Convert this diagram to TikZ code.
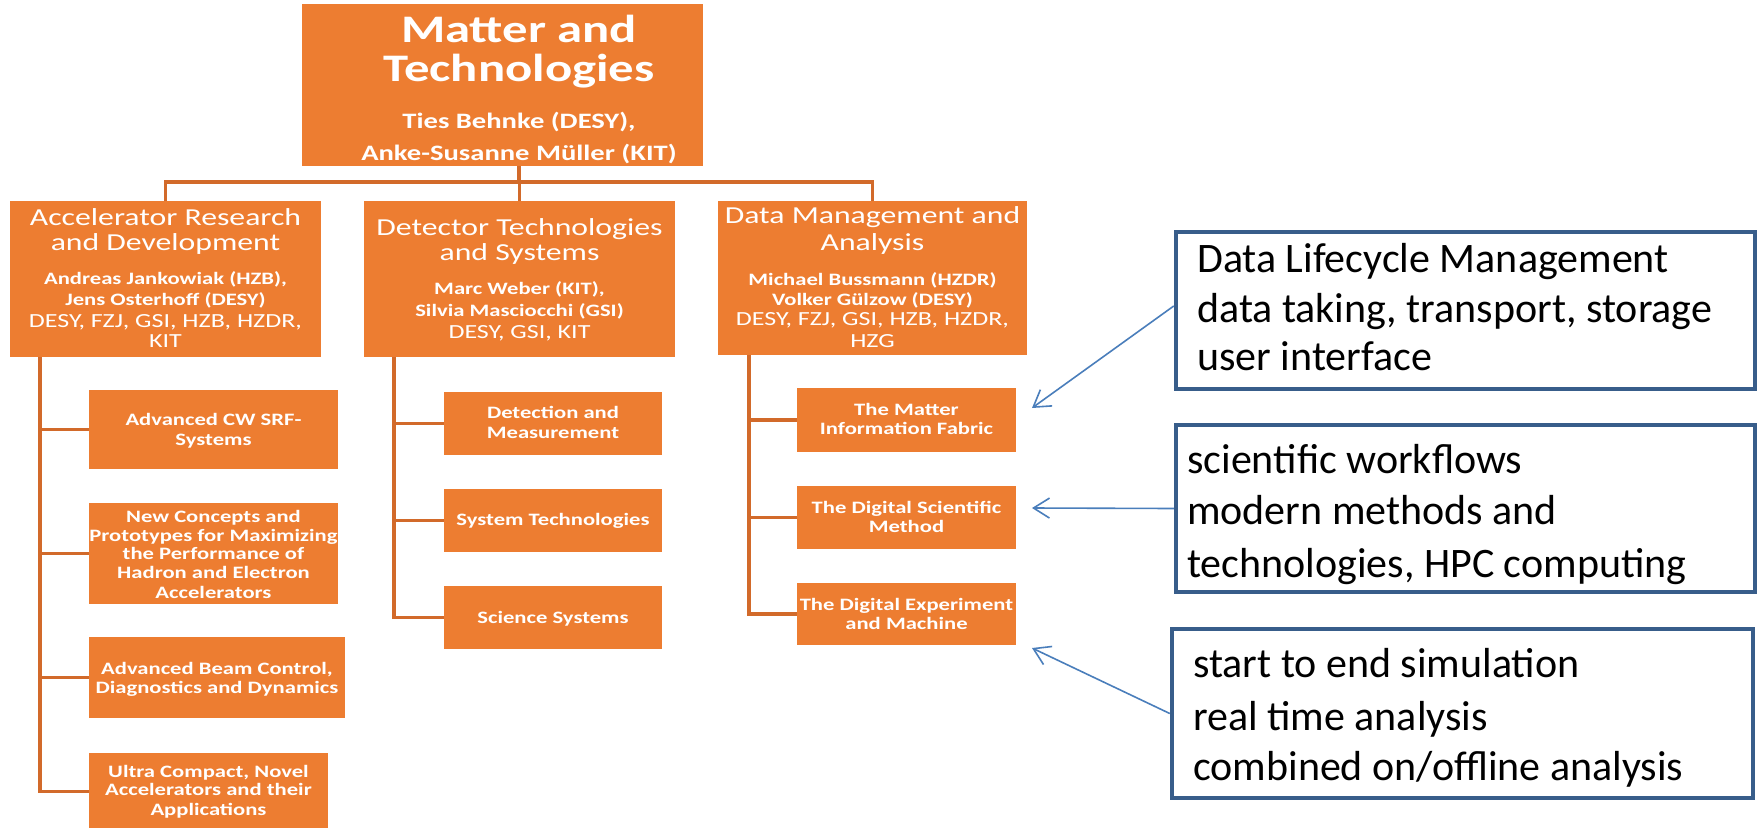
\documentclass[tikz,border=0pt]{standalone}
\usepackage{fontspec}
\setmainfont{Carlito}
\newfontfamily\widefont[FakeStretch=1.3]{Carlito}
\usetikzlibrary{arrows.meta}

\definecolor{orfill}{RGB}{237,125,49}
\definecolor{orline}{RGB}{210,106,42}
\definecolor{bluebox}{RGB}{56,93,138}
\definecolor{bluearr}{RGB}{74,126,187}

% font presets
\newcommand\fMain{\widefont\bfseries\fontsize{39}{40}\selectfont}
\newcommand\fMainNames{\widefont\bfseries\fontsize{22}{24}\selectfont}
\newcommand\fTitle{\widefont\fontsize{24.4}{26}\selectfont}
\newcommand\fNames{\widefont\bfseries\fontsize{17.4}{19}\selectfont}
\newcommand\fInst{\widefont\fontsize{20}{22}\selectfont}
\newcommand\fSub{\widefont\bfseries\fontsize{17.4}{19}\selectfont}
\newcommand\fNote{\fontsize{42}{50}\selectfont}

% one line of text, centred on x at baseline y
\newcounter{tln}
\newcommand\cenLine[4]{\stepcounter{tln}%
  \node[otext,font=#3] (ct\arabic{tln}) at (#1,#2) {#4};}
% one line of text, left-aligned at x on baseline y
\newcommand\noteLine[3]{\stepcounter{tln}%
  \node[ntext] (lt\arabic{tln}) at (#1,#2) {#3};}

\begin{document}
\begin{tikzpicture}[x=1pt,y=-1pt,
  obox/.style={rectangle,fill=orfill,draw=none,inner sep=0pt,outer sep=0pt},
  bbox/.style={rectangle,fill=white,draw=bluebox,line width=4.5pt,inner sep=0pt},
  otext/.style={anchor=base,inner sep=0pt,text=white},
  ntext/.style={anchor=base west,inner sep=0pt,text=black,font=\fNote},
  conn/.style={draw=orline,line width=3.5pt},
  arr/.style={draw=bluearr,line width=1.6pt,-{Straight Barb[length=16pt,width=20pt]}}
]
\clip (0,0) rectangle (1761,827);
\fill[white] (0,0) rectangle (1761,827);

% ---------- boxes ----------
\node[obox,minimum width=401pt,minimum height=162pt] (top) at (502.5,85) {};
\node[obox,minimum width=311pt,minimum height=156pt] (acc) at (165.5,279) {};
\node[obox,minimum width=311pt,minimum height=156pt] (det) at (519.5,279) {};
\node[obox,minimum width=309pt,minimum height=154pt] (data) at (872.5,278) {};

\node[obox,minimum width=249pt,minimum height=79pt] (a1) at (213.5,429.5) {};
\node[obox,minimum width=249pt,minimum height=101pt] (a2) at (213.5,553.5) {};
\node[obox,minimum width=256pt,minimum height=81pt] (a3) at (217,677.5) {};
\node[obox,minimum width=239pt,minimum height=77pt] (a4) at (208.5,791.5) {};

\node[obox,minimum width=218pt,minimum height=63pt] (d1) at (553,423.5) {};
\node[obox,minimum width=218pt,minimum height=63pt] (d2) at (553,520.5) {};
\node[obox,minimum width=218pt,minimum height=63pt] (d3) at (553,617.5) {};

\node[obox,minimum width=219pt,minimum height=64pt] (m1) at (906.5,420) {};
\node[obox,minimum width=219pt,minimum height=63pt] (m2) at (906.5,517.5) {};
\node[obox,minimum width=219pt,minimum height=62pt] (m3) at (906.5,614) {};

\node[bbox,minimum width=579pt,minimum height=157pt] (boxA) at (1465.5,310.5) {};
\node[bbox,minimum width=579pt,minimum height=167pt] (boxB) at (1465.5,508.5) {};
\node[bbox,minimum width=581pt,minimum height=169pt] (boxC) at (1462.5,713.5) {};

% ---------- tree connectors ----------
\coordinate (hub) at (519,182);
\draw[conn] (top.south -| hub) -- (hub);
\draw[conn] (acc.north) |- (hub);
\draw[conn] (data.north) |- (hub);
\draw[conn] (det.north) -- (det.north |- hub);

\coordinate (c1) at (40,357);
\foreach \b in {a1,a2,a3,a4} \draw[conn] (c1) |- (\b.west);
\coordinate (c2) at (394,357);
\foreach \b in {d1,d2,d3} \draw[conn] (c2) |- (\b.west);
\coordinate (c3) at (749,355);
\foreach \b in {m1,m2,m3} \draw[conn] (c3) |- (\b.west);

% ---------- pointers ----------
\coordinate (tipA) at (1032,408);
\coordinate (tipB) at (1032,508);
\coordinate (tipC) at (1032,648);
\draw[arr] ([yshift=4.5pt]boxA.west) -- (tipA);
\draw[arr] (boxB.west) -- (tipB);
\draw[arr] (boxC.west) -- (tipC);

% ---------- texts ----------
\cenLine{519}{42}{\fMain}{Matter and}
\cenLine{519}{81}{\fMain}{Technologies}
\cenLine{519}{128}{\fMainNames}{Ties Behnke (DESY),}
\cenLine{519}{160}{\fMainNames}{Anke-Susanne Müller (KIT)}

\cenLine{165.5}{225}{\fTitle}{Accelerator Research}
\cenLine{165.5}{250}{\fTitle}{and Development}
\cenLine{165.5}{284}{\fNames}{Andreas Jankowiak (HZB),}
\cenLine{165.5}{305}{\fNames}{Jens Osterhoff (DESY)}
\cenLine{165.5}{327}{\fInst}{DESY, FZJ, GSI, HZB, HZDR,}
\cenLine{165.5}{347}{\fInst}{KIT}

\cenLine{519.5}{235}{\fTitle}{Detector Technologies}
\cenLine{519.5}{260}{\fTitle}{and Systems}
\cenLine{519.5}{294}{\fNames}{Marc Weber (KIT),}
\cenLine{519.5}{316}{\fNames}{Silvia Masciocchi (GSI)}
\cenLine{519.5}{338}{\fInst}{DESY, GSI, KIT}

\cenLine{872.5}{223}{\fTitle}{Data Management and}
\cenLine{872.5}{250}{\fTitle}{Analysis}
\cenLine{872.5}{285}{\fNames}{Michael Bussmann (HZDR)}
\cenLine{872.5}{305}{\fNames}{Volker Gülzow (DESY)}
\cenLine{872.5}{325}{\fInst}{DESY, FZJ, GSI, HZB, HZDR,}
\cenLine{872.5}{347}{\fInst}{HZG}

\cenLine{213.5}{425}{\fSub}{Advanced CW SRF-}
\cenLine{213.5}{445}{\fSub}{Systems}
\cenLine{213.5}{522}{\fSub}{New Concepts and}
\cenLine{213.5}{541}{\fSub}{Prototypes for Maximizing}
\cenLine{213.5}{559}{\fSub}{the Performance of}
\cenLine{213.5}{578}{\fSub}{Hadron and Electron}
\cenLine{213.5}{598}{\fSub}{Accelerators}
\cenLine{217}{674}{\fSub}{Advanced Beam Control,}
\cenLine{217}{693}{\fSub}{Diagnostics and Dynamics}
\cenLine{208.5}{777}{\fSub}{Ultra Compact, Novel}
\cenLine{208.5}{795}{\fSub}{Accelerators and their}
\cenLine{208.5}{815}{\fSub}{Applications}

\cenLine{553}{418}{\fSub}{Detection and}
\cenLine{553}{438}{\fSub}{Measurement}
\cenLine{553}{525}{\fSub}{System Technologies}
\cenLine{553}{623}{\fSub}{Science Systems}

\cenLine{906.5}{415}{\fSub}{The Matter}
\cenLine{906.5}{434}{\fSub}{Information Fabric}
\cenLine{906.5}{513}{\fSub}{The Digital Scientific}
\cenLine{906.5}{532}{\fSub}{Method}
\cenLine{906.5}{610}{\fSub}{The Digital Experiment}
\cenLine{906.5}{629}{\fSub}{and Machine}

\noteLine{1197}{272}{Data Lifecycle Management}
\noteLine{1197}{322}{data taking, transport, storage}
\noteLine{1197}{370}{user interface}
\noteLine{1187}{473}{scientific workflows}
\noteLine{1187}{524}{modern methods and}
\noteLine{1187}{577}{technologies, HPC computing}
\noteLine{1193}{677}{start to end simulation}
\noteLine{1193}{730}{real time analysis}
\noteLine{1193}{780}{combined on/offline analysis}
\end{tikzpicture}
\end{document}
